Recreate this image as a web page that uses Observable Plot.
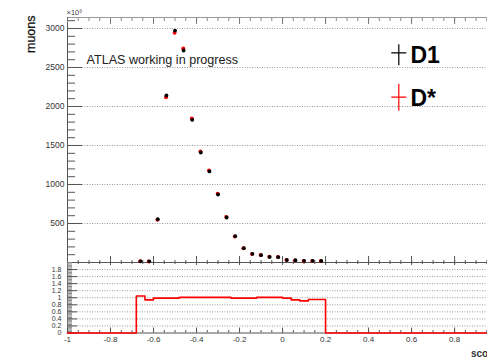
<!DOCTYPE html>
<html><head><meta charset="utf-8">
<script src="https://cdn.jsdelivr.net/npm/d3@7"></script>
<script src="https://cdn.jsdelivr.net/npm/@observablehq/plot@0.6"></script>
<style>
html,body{margin:0;padding:0;background:#fff;}
#wrap{position:relative;width:487px;height:358px;overflow:hidden;font-family:"Liberation Sans",Arial,sans-serif;}
#wrap svg{position:absolute;left:0;overflow:visible;}
</style></head><body><div id="wrap"></div>
<script>
// ---- data (counts in units of 10^3) ----
const binCenters   = [-0.66,-0.62,-0.58,-0.54,-0.50,-0.46,-0.42,-0.38,-0.34,-0.30,-0.26,-0.22,-0.18,-0.14,-0.10,-0.06,-0.02,0.02,0.06,0.10,0.14,0.18];
const d1Counts     = [15,15,555,2141,2974,2718,1829,1410,1167,872,577,337,184,111,94,72,68,33,29,21,21,20];
const dstarCounts  = [16,14,549,2120,2944,2745,1847,1424,1179,881,583,334,182,110,95,73,69,33,27,19,20,19];
const ratioValues  = [1.05,0.94,0.99,0.99,0.99,1.01,1.01,1.01,1.01,1.01,1.01,0.99,0.99,0.99,1.01,1.01,1.01,0.99,0.94,0.91,0.95,0.95];
const binWidth = 0.04;
const xTicks = [-1,-0.8,-0.6,-0.4,-0.2,0,0.2,0.4,0.6,0.8,1];
const xTickLabels = [-1,-0.8,-0.6,-0.4,-0.2,0,0.2,0.4,0.6,0.8];
const yTicks = [500,1000,1500,2000,2500,3000];
const ratioTicks = [0,0.2,0.4,0.6,0.8,1,1.2,1.4,1.6,1.8];
const seriesNames = ["D1","D*"];
const seriesColors = ["#000000","#ff0000"];
const annotation = "ATLAS working in progress";
const yTitle = "muons";
const xTitle = "score";
const yExponent = "×10³";

const xDomain = [-1, 0.953];
const yMax = 3141;
const axisColor = "#555";
const gridStyle = {stroke: "#9a9a9a", strokeOpacity: 1, strokeDasharray: "1,1.5"};
const font = "Liberation Sans, Arial, sans-serif";
const xMinor = d3.range(-20, 21).map(i => +(i * 0.05).toFixed(2));
const yMinor = d3.range(0, 32).map(i => i * 100);
const rMinor = d3.range(0, 51).map(i => +(i * 0.04).toFixed(2));

const points = binCenters.map((c, i) => ({x: c, d1: d1Counts[i], ds: dstarCounts[i]}));

function cross(up, down, half) {
  return {draw(ctx) { ctx.moveTo(-half, 0); ctx.lineTo(half, 0); ctx.moveTo(0, -up); ctx.lineTo(0, down); }};
}

const topPlot = Plot.plot({
  width: 487, height: 270,
  marginLeft: 67, marginRight: 0, marginTop: 17, marginBottom: 8,
  style: {background: "transparent", fontFamily: font, overflow: "visible"},
  x: {domain: xDomain, axis: null},
  y: {domain: [0, yMax], axis: null},
  marks: [
    Plot.gridY({ticks: yTicks, ...gridStyle}),
    Plot.ruleY([yMax], {stroke: "#999"}),
    Plot.ruleX([-1], {stroke: axisColor}),
    Plot.ruleY([0], {stroke: axisColor}),
    Plot.axisY({ticks: yMinor, tickSize: 8, dx: 8, text: null, label: null, stroke: axisColor}),
    Plot.axisY({ticks: yTicks, tickSize: 15, dx: 15, text: null, label: null, stroke: axisColor}),
    Plot.axisY({ticks: yTicks, tickSize: 0, tickPadding: 3, fontSize: 8.5, fill: "#333", label: null, tickFormat: d => String(d)}),
    Plot.axisX({anchor: "top", ticks: xMinor, tickSize: 3, dy: 3, text: null, label: null, stroke: "#888"}),
    Plot.axisX({anchor: "top", ticks: xTicks, tickSize: 6, dy: 6, text: null, label: null, stroke: "#777"}),
    Plot.axisX({anchor: "bottom", ticks: xMinor, tickSize: 4, dy: -2, text: null, label: null, stroke: axisColor}),
    Plot.axisX({anchor: "bottom", ticks: xTicks, tickSize: 9, dy: -6, text: null, label: null, stroke: axisColor}),
    Plot.dot(points, {x: "x", y: "ds", r: 2.0, fill: seriesColors[1], dx: -0.4}),
    Plot.dot(points, {x: "x", y: "d1", r: 1.9, fill: seriesColors[0]}),
    Plot.text([annotation], {frameAnchor: "top-left", dx: 19, dy: 46.5, lineAnchor: "bottom", textAnchor: "start", fontSize: 12.6, fill: "#222"}),
    Plot.text([yExponent], {frameAnchor: "top-left", dx: -1, dy: -3, lineAnchor: "bottom", textAnchor: "start", fontSize: 7.5, fill: "#444"}),
    Plot.text([yTitle], {frameAnchor: "top-left", rotate: -90, textAnchor: "end", lineAnchor: "middle", dx: -37, dy: -2, fontSize: 12.5, fill: "#111", stroke: "#111", strokeWidth: 0.25}),
    // legend
    Plot.dot([seriesNames[0]], {frameAnchor: "top-left", dx: 331.3, dy: 35.3, symbol: cross(8.5, 12.5, 7.5), fill: "none", stroke: seriesColors[0], strokeWidth: 1.2}),
    Plot.dot([seriesNames[1]], {frameAnchor: "top-left", dx: 331.3, dy: 79.7, symbol: cross(13.5, 13.5, 7.5), fill: "none", stroke: seriesColors[1], strokeWidth: 1.2}),
    Plot.text([seriesNames[0]], {frameAnchor: "top-left", dx: 343, dy: 45, lineAnchor: "bottom", textAnchor: "start", fontSize: 23, fontWeight: "bold", fill: "#000"}),
    Plot.text([seriesNames[1]], {frameAnchor: "top-left", dx: 343, dy: 88, lineAnchor: "bottom", textAnchor: "start", fontSize: 23, fontWeight: "bold", fill: "#000"})
  ]
});
topPlot.style.top = "0px";

const stepPts = [{x: -1, y: 0}, {x: binCenters[0] - binWidth / 2, y: 0}];
binCenters.forEach((c, i) => {
  stepPts.push({x: c - binWidth / 2, y: ratioValues[i]}, {x: c + binWidth / 2, y: ratioValues[i]});
});
stepPts.push({x: binCenters[binCenters.length - 1] + binWidth / 2, y: 0}, {x: 1, y: 0});

const ratioPlot = Plot.plot({
  width: 487, height: 103,
  marginLeft: 67, marginRight: 0, marginTop: 7, marginBottom: 25.5,
  style: {background: "transparent", fontFamily: font, overflow: "visible"},
  x: {domain: xDomain, axis: null},
  y: {domain: [0, 2], axis: null},
  marks: [
    Plot.gridY({ticks: ratioTicks.filter(d => d > 0), ...gridStyle}),
    Plot.ruleX([-1], {stroke: axisColor}),
    Plot.ruleY([0], {stroke: axisColor}),
    Plot.axisY({ticks: rMinor, tickSize: 5, dx: 5, text: null, label: null, stroke: "#888"}),
    Plot.axisY({ticks: ratioTicks, tickSize: 10, dx: 10, text: null, label: null, stroke: axisColor}),
    Plot.axisY({ticks: ratioTicks, tickSize: 0, tickPadding: 6, fontSize: 7, fill: "#333", label: null, tickFormat: d => String(d)}),
    Plot.axisX({anchor: "bottom", ticks: xMinor, tickSize: 2.5, dy: -2.5, text: null, label: null, stroke: axisColor}),
    Plot.axisX({anchor: "bottom", ticks: xTicks, tickSize: 5, dy: -5, text: null, label: null, stroke: axisColor}),
    Plot.axisX({anchor: "bottom", ticks: xTickLabels, tickSize: 0, tickPadding: 3.5, fontSize: 8, fill: "#333", label: null, tickFormat: d => String(d)}),
    Plot.line(stepPts, {x: "x", y: "y", stroke: seriesColors[1], strokeWidth: 1.6}),
    Plot.text([xTitle], {x: () => 1, frameAnchor: "bottom", dy: 23.5, lineAnchor: "bottom", textAnchor: "end", fontSize: 10, fontWeight: "bold", fill: "#333"})
  ]
});
ratioPlot.style.top = "255px";

const wrap = document.getElementById("wrap");
wrap.appendChild(topPlot);
wrap.appendChild(ratioPlot);
</script>
</body></html>
